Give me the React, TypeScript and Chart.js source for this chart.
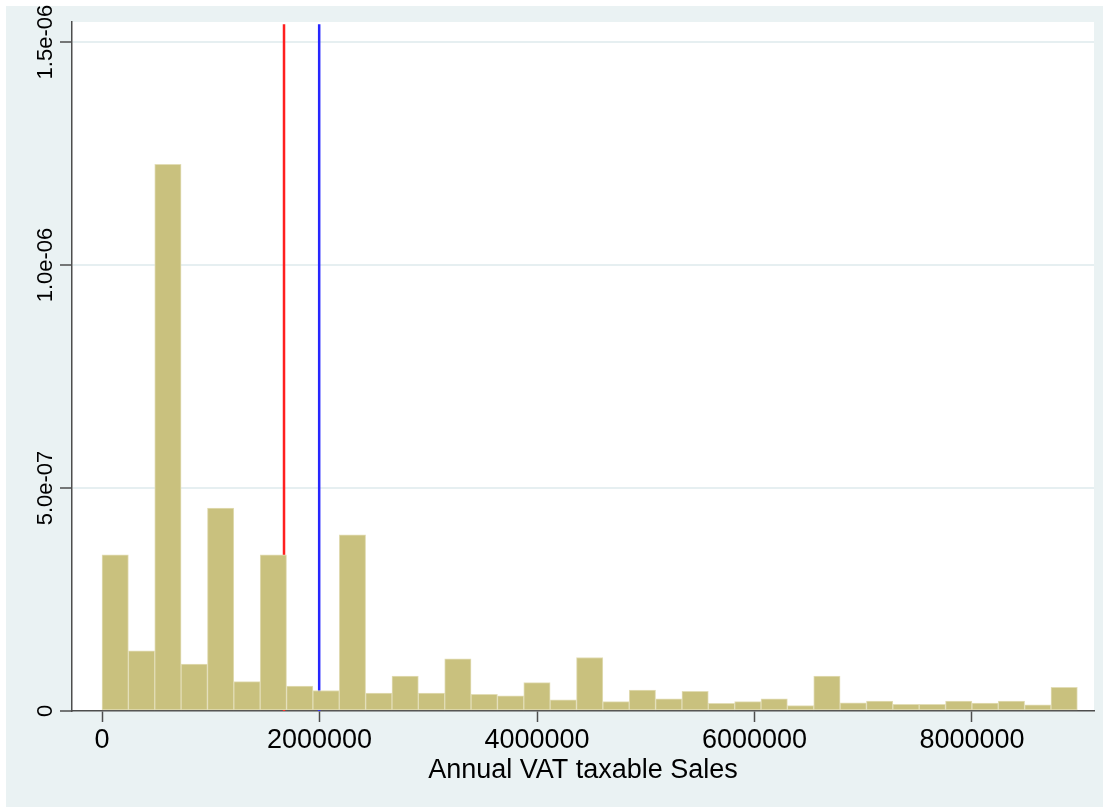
import React, { useEffect, useRef } from 'react';
import { Chart, registerables } from 'chart.js';

Chart.register(...registerables);

// Histogram binning (density scale)
const binStart = 0;
const binWidth = 242400;
const densities = [
  3.5e-7, 1.35e-7, 1.226e-6, 1.05e-7, 4.55e-7, 6.6e-8, 3.5e-7, 5.6e-8, 4.6e-8, 3.95e-7,
  4.0e-8, 7.85e-8, 4.0e-8, 1.17e-7, 3.75e-8, 3.4e-8, 6.35e-8, 2.5e-8, 1.2e-7, 2.1e-8,
  4.7e-8, 2.75e-8, 4.4e-8, 1.7e-8, 2.1e-8, 2.75e-8, 1.2e-8, 7.85e-8, 1.85e-8, 2.2e-8,
  1.5e-8, 1.5e-8, 2.2e-8, 1.8e-8, 2.2e-8, 1.4e-8, 5.3e-8,
];
const xTickValues = [0, 2000000, 4000000, 6000000, 8000000];
const yTickValues = [0, 5e-7, 1e-6, 1.5e-6];
const yTickLabels = ['0', '5.0e-07', '1.0e-06', '1.5e-06'];
const redLineX = 1673600;
const blueLineX = 1997000;
const xTitle = 'Annual VAT taxable Sales';

const xMin = -276000;
const xMax = 9122000;
const yMax = 1.545e-6;
const lineTop = 1.54e-6;

const FONT = '"Liberation Sans", Arial, Helvetica, sans-serif';

const bgPlugin = {
  id: 'stataBg',
  beforeDraw(chart: any) {
    const { ctx, chartArea, width, height } = chart;
    ctx.save();
    ctx.fillStyle = '#ffffff';
    ctx.fillRect(0, 0, width, height);
    ctx.fillStyle = '#eaf2f3';
    ctx.fillRect(6, 6, width - 6, height - 6);
    ctx.fillStyle = '#ffffff';
    ctx.fillRect(chartArea.left, chartArea.top, chartArea.right - chartArea.left, chartArea.bottom - chartArea.top);
    ctx.restore();
  },
};

const yLabelPlugin = {
  id: 'yRotLabels',
  afterDraw(chart: any) {
    const { ctx } = chart;
    const ys = chart.scales.y;
    ctx.save();
    ctx.font = `22px ${FONT}`;
    ctx.fillStyle = '#000000';
    ctx.textAlign = 'center';
    ctx.textBaseline = 'alphabetic';
    yTickValues.forEach((v, i) => {
      const py = ys.getPixelForValue(v);
      ctx.save();
      ctx.translate(52, py);
      ctx.rotate(-Math.PI / 2);
      ctx.fillText(yTickLabels[i], 0, 0);
      ctx.restore();
    });
    ctx.restore();
  },
};

export default function App() {
  const ref = useRef<HTMLCanvasElement>(null);

  useEffect(() => {
    Chart.defaults.font.family = FONT;
    const barData = densities.map((d, i) => ({ x: binStart + (i + 0.5) * binWidth, y: d }));
    const chart = new Chart(ref.current as HTMLCanvasElement, {
      type: 'bar',
      data: {
        datasets: [
          {
            type: 'bar',
            data: barData as any,
            backgroundColor: '#c9c17e',
            borderColor: '#e2ddb6',
            borderWidth: 1,
            borderSkipped: false,
            barPercentage: 1,
            categoryPercentage: 1,
            order: 0,
          } as any,
          {
            type: 'line',
            data: [
              { x: redLineX, y: 0 },
              { x: redLineX, y: lineTop },
            ] as any,
            borderColor: '#ff1f1f',
            borderWidth: 2.5,
            pointRadius: 0,
            fill: false,
            order: 2,
          } as any,
          {
            type: 'line',
            data: [
              { x: blueLineX, y: 0 },
              { x: blueLineX, y: lineTop },
            ] as any,
            borderColor: '#2626ff',
            borderWidth: 2.5,
            pointRadius: 0,
            fill: false,
            order: 2,
          } as any,
        ],
      },
      options: {
        animation: false,
        responsive: false,
        layout: { padding: { top: 22, right: 9, left: 0, bottom: 0 } },
        plugins: { legend: { display: false }, tooltip: { enabled: false } },
        scales: {
          x: {
            type: 'linear',
            min: xMin,
            max: xMax,
            offset: false,
            afterBuildTicks: (s: any) => {
              s.ticks = xTickValues.map((v) => ({ value: v }));
            },
            afterFit: (s: any) => {
              s.height = 96;
            },
            grid: {
              display: true,
              drawOnChartArea: false,
              drawTicks: true,
              tickLength: 11,
              tickColor: '#4d4d4d',
              tickWidth: 1.5,
              offset: false,
            },
            border: { display: true, color: '#4d4d4d', width: 1.5 },
            ticks: {
              color: '#000000',
              font: { size: 27 },
              padding: 2,
              maxRotation: 0,
              autoSkip: false,
              callback: (v: any) => String(v),
            },
            title: {
              display: true,
              text: xTitle,
              color: '#000000',
              font: { size: 27 },
              padding: { top: 0, bottom: 20 },
            },
          } as any,
          y: {
            type: 'linear',
            min: 0,
            max: yMax,
            afterBuildTicks: (s: any) => {
              s.ticks = yTickValues.map((v) => ({ value: v }));
            },
            afterFit: (s: any) => {
              s.width = 72;
            },
            grid: {
              color: (c: any) => (c.tick && c.tick.value === 0 ? 'rgba(0,0,0,0)' : '#e6eff1'),
              lineWidth: 2,
              tickColor: '#4d4d4d',
              tickWidth: 1.5,
              tickLength: 12,
              drawTicks: true,
            },
            border: { display: true, color: '#4d4d4d', width: 1.5 },
            ticks: { display: false, autoSkip: false },
          } as any,
        },
      } as any,
      plugins: [bgPlugin, yLabelPlugin],
    } as any);
    return () => chart.destroy();
  }, []);

  return (
    <div style={{ position: 'absolute', left: 0, top: 0, width: 1103, height: 807 }}>
      <canvas ref={ref} width={1103} height={807} style={{ display: 'block', width: 1103, height: 807 }} />
    </div>
  );
}
